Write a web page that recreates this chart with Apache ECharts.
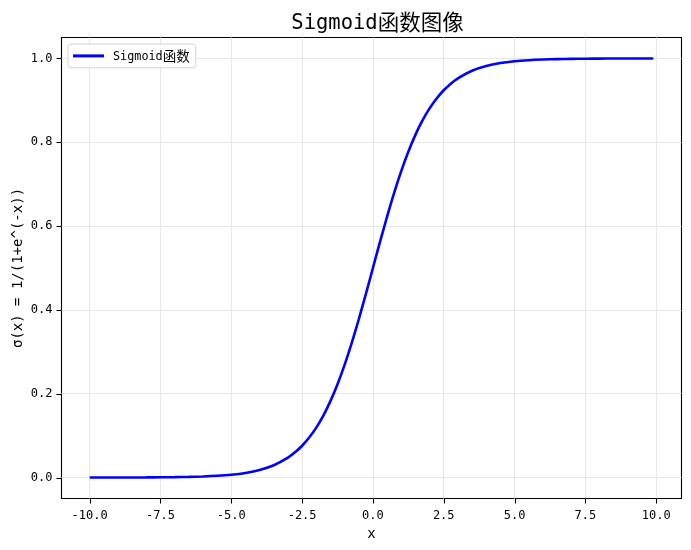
<!DOCTYPE html>
<html>
<head>
<meta charset="utf-8">
<script src="https://cdn.jsdelivr.net/npm/echarts@6/dist/echarts.min.js"></script>
<style>html,body{margin:0;padding:0;background:#fff;}#c{width:691px;height:550px;}</style>
</head>
<body>
<div id="c"></div>
<script>
// Data
const xValues = [-10, -9.5, -9, -8.5, -8, -7.5, -7, -6.5, -6, -5.5, -5, -4.5, -4, -3.5,
  -3, -2.75, -2.5, -2.25, -2, -1.75, -1.5, -1.25, -1, -0.75, -0.5, -0.25,
  0, 0.25, 0.5, 0.75, 1, 1.25, 1.5, 1.75, 2, 2.25, 2.5, 2.75, 3,
  3.5, 4, 4.5, 5, 5.5, 6, 6.5, 7, 7.5, 8, 8.5, 9, 9.5, 9.9];
const yValues = [0.0000, 0.0001, 0.0001, 0.0002, 0.0003, 0.0006, 0.0009, 0.0015, 0.0025, 0.0041, 0.0067, 0.0110, 0.0180, 0.0293,
  0.0474, 0.0601, 0.0759, 0.0954, 0.1192, 0.1480, 0.1824, 0.2227, 0.2689, 0.3208, 0.3775, 0.4378,
  0.5000, 0.5622, 0.6225, 0.6792, 0.7311, 0.7773, 0.8176, 0.8520, 0.8808, 0.9046, 0.9241, 0.9399, 0.9526,
  0.9707, 0.9820, 0.9890, 0.9933, 0.9959, 0.9975, 0.9985, 0.9991, 0.9994, 0.9997, 0.9998, 0.9999, 0.9999, 1.0000];
const xTicks = [-10, -7.5, -5, -2.5, 0, 2.5, 5, 7.5, 10];
const yTicks = [0, 0.2, 0.4, 0.6, 0.8, 1.0];
const seriesName = 'Sigmoid函数';
const titleText = 'Sigmoid函数图像';
const xLabel = 'x';
const yLabel = 'σ(x) = 1/(1+e^(-x))';

const MONO = '"DejaVu Sans Mono", "Noto Sans CJK SC", monospace';
const CJK = '"Noto Sans CJK SC", sans-serif';

function richSplit(s) {
  let out = '';
  const re = /([\u4e00-\u9fff]+)|([^\u4e00-\u9fff]+)/g;
  let m;
  while ((m = re.exec(s))) {
    out += m[1] ? '{c|' + m[1] + '}' : '{l|' + m[2] + '}';
  }
  return out;
}

// axis extents (matplotlib-style 5% margins)
const xMin = -10.995, xMax = 10.895, yMin = -0.05, yMax = 1.05;
const W = 691, H = 550, TICK = 5;
const G = {left: 61.5, right: 9.5, top: 37.5, bottom: 51.5};
const plotW = W - G.left - G.right, plotH = H - G.top - G.bottom;
const pxX = plotW / (xMax - xMin), pxY = plotH / (yMax - yMin);
const xT0 = xTicks[0], xT1 = xTicks[xTicks.length - 1];
const yT0 = yTicks[0], yT1 = yTicks[yTicks.length - 1];
const xStep = xTicks[1] - xTicks[0], yStep = +(yTicks[1] - yTicks[0]).toFixed(6);
// inner grid whose axis range is exactly the tick range, so labels start at a round min
const G2 = {
  left: G.left + (xT0 - xMin) * pxX,
  right: G.right + (xMax - xT1) * pxX,
  top: G.top + (yMax - yT1) * pxY,
  bottom: G.bottom + (yT0 - yMin) * pxY
};

const data = xValues.map((x, i) => [x, yValues[i]]);
const gridLineStyle = {color: '#e7e7e7', width: 1.1, type: 'solid'};
const tickFont = {fontFamily: MONO, fontSize: 12, color: '#000'};
function hidden() {
  return {axisLine: {show: false, onZero: false}, axisTick: {show: false}, axisLabel: {show: false}, splitLine: {show: false}};
}

const chart = echarts.init(document.getElementById('c'), null, {renderer: 'canvas'});
chart.setOption({
  animation: false,
  backgroundColor: '#fff',
  title: {
    text: richSplit(titleText),
    left: 372.5,
    textAlign: 'center',
    top: 4,
    textStyle: {
      fontWeight: 'normal',
      rich: {
        l: {fontFamily: MONO, fontSize: 20.5, fontWeight: 'normal', color: '#000', lineHeight: 26, verticalAlign: 'middle', padding: [3, 0, 0, 0]},
        c: {fontFamily: CJK, fontSize: 21.5, fontWeight: 'normal', color: '#000', lineHeight: 26, verticalAlign: 'middle'}
      }
    }
  },
  legend: {
    z: 20,
    left: 68,
    top: 44,
    orient: 'vertical',
    padding: [5, 6, 5, 5],
    backgroundColor: 'rgba(255,255,255,0.85)',
    borderColor: '#d5d5d5',
    borderWidth: 1,
    borderRadius: 3,
    itemWidth: 31,
    itemHeight: 3,
    data: [{name: seriesName, icon: 'rect'}],
    formatter: (n) => richSplit(n),
    textStyle: {
      padding: [0, 0, 0, 4],
      rich: {
        l: {fontFamily: MONO, fontSize: 11.8, color: '#000', lineHeight: 16, verticalAlign: 'middle', padding: [2, 0, 0, 0]},
        c: {fontFamily: CJK, fontSize: 13.5, color: '#000', lineHeight: 16, verticalAlign: 'middle'}
      }
    }
  },
  grid: [
    {left: G.left, right: G.right, top: G.top, bottom: G.bottom,
     show: true, borderColor: '#000', borderWidth: 1.1, backgroundColor: '#fff'},
    {left: G2.left, right: G2.right, top: G2.top, bottom: G2.bottom, show: false}
  ],
  xAxis: [
    Object.assign({
      gridIndex: 0, type: 'value', min: xMin, max: xMax,
      name: xLabel, nameLocation: 'middle', nameGap: 35.5, nameMoveOverlap: false,
      nameTextStyle: {fontFamily: MONO, fontSize: 14, color: '#000', verticalAlign: 'middle'}
    }, hidden()),
    {
      gridIndex: 1, type: 'value', min: xT0, max: xT1, interval: xStep,
      offset: G2.bottom - G.bottom,
      axisLine: {show: false, onZero: false},
      axisTick: {show: false},
      axisLabel: Object.assign({show: true, margin: 11, formatter: (v) => v.toFixed(1)}, tickFont),
      splitLine: {show: false}
    }
  ],
  yAxis: [
    Object.assign({
      gridIndex: 0, type: 'value', min: yMin, max: yMax,
      name: yLabel, nameLocation: 'middle', nameGap: 43, nameRotate: 90, nameMoveOverlap: false,
      nameTextStyle: {fontFamily: MONO, fontSize: 14, color: '#000', verticalAlign: 'middle'}
    }, hidden()),
    {
      gridIndex: 1, type: 'value', min: yT0, max: yT1, interval: yStep,
      offset: G2.left - G.left,
      axisLine: {show: false, onZero: false},
      axisTick: {show: false},
      axisLabel: Object.assign({show: true, margin: 9, formatter: (v) => v.toFixed(1)}, tickFont),
      splitLine: {show: false}
    }
  ],
  series: [{
    name: seriesName,
    type: 'line',
    xAxisIndex: 0, yAxisIndex: 0,
    data: data,
    symbol: 'none',
    smooth: 0.3,
    lineStyle: {color: '#0000ff', width: 2.6},
    itemStyle: {color: '#0000ff'},
    z: 10,
    markLine: {
      silent: true,
      symbol: ['none', 'none'],
      label: {show: false},
      lineStyle: gridLineStyle,
      emphasis: {disabled: true},
      data: xTicks.map(v => ({xAxis: v})).concat(yTicks.map(v => ({yAxis: v})))
    }
  }]
});

// Outward tick marks, positioned through the chart's own axis scales
const axisBottom = chart.convertToPixel({yAxisIndex: 0}, yMin);
const axisLeft = chart.convertToPixel({xAxisIndex: 0}, xMin);
const tickGraphics = [];
xTicks.forEach((v) => {
  const px = Math.round(chart.convertToPixel({xAxisIndex: 0}, v)) + 0.5;
  tickGraphics.push({
    type: 'line', silent: true, z: 100,
    shape: {x1: px, y1: axisBottom, x2: px, y2: axisBottom + TICK},
    style: {stroke: '#000', lineWidth: 1.1}
  });
});
yTicks.forEach((v) => {
  const py = Math.round(chart.convertToPixel({yAxisIndex: 0}, v)) + 0.5;
  tickGraphics.push({
    type: 'line', silent: true, z: 100,
    shape: {x1: axisLeft - TICK, y1: py, x2: axisLeft, y2: py},
    style: {stroke: '#000', lineWidth: 1.1}
  });
});
chart.setOption({graphic: {elements: tickGraphics}});
</script>
</body>
</html>
